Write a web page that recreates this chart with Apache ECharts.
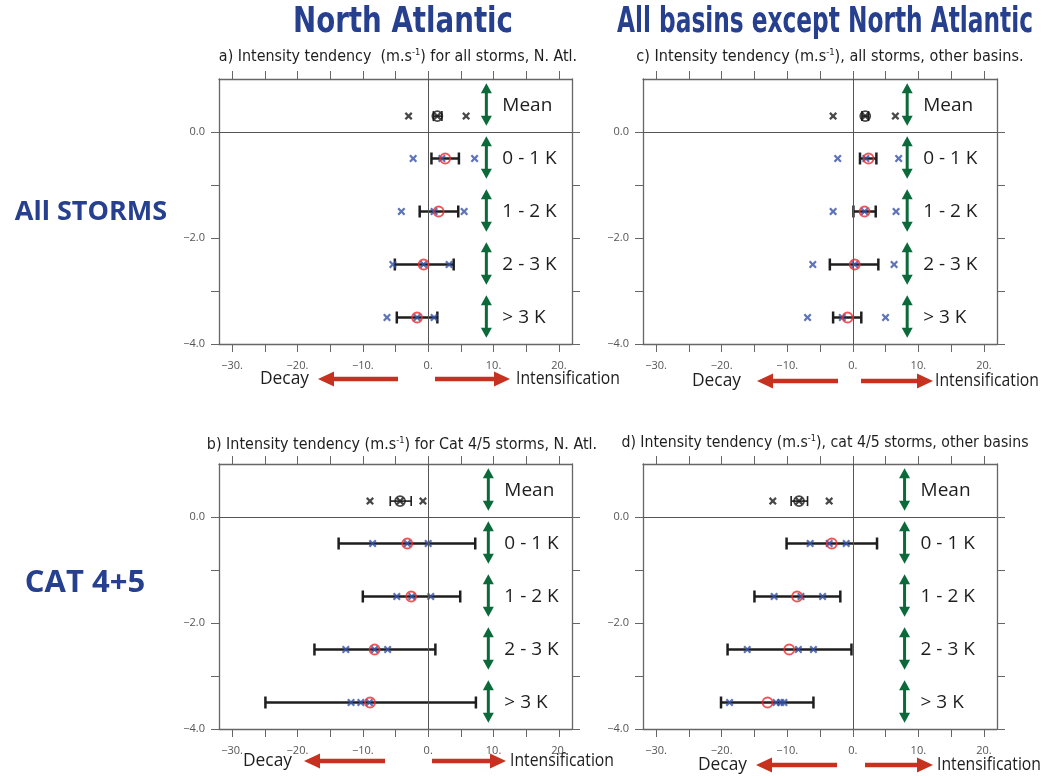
<!DOCTYPE html>
<html>
<head>
<meta charset="utf-8">
<script src="https://cdn.jsdelivr.net/npm/echarts@6/dist/echarts.min.js"></script>
<style>
  html, body { margin: 0; padding: 0; background: #fff; }
  #chart { width: 1044px; height: 776px; }
</style>
</head>
<body>
<div id="chart"></div>
<script>
// Row layout shared by all four panels
const rowLabels = ['Mean', '0 - 1 K', '1 - 2 K', '2 - 3 K', '> 3 K'];
const rowLevels = [0.3, -0.5, -1.5, -2.5, -3.5];

// Axis ticks and labels
const xTicks = [-30, -25, -20, -15, -10, -5, 0, 5, 10, 15, 20];
const xTickLabels = [-30, -20, -10, 0, 10, 20];
const yTicks = [-4, -3, -2, -1, 0];
const yTickLabels = [-4, -2, 0];

// a) all storms, North Atlantic
const aLow = [0.8, 0.5, -1.3, -5.1, -4.8];
const aHigh = [2.1, 4.7, 4.6, 3.9, 1.4];
const aMean = [1.4, 2.6, 1.6, -0.7, -1.7];
const aMembers = [[-3.0, 1.4, 5.8], [-2.3, 2.1, 7.1], [-4.1, 0.9, 5.5], [-5.4, -0.7, 3.2], [-6.3, -1.7, 0.9]];

// b) Cat 4/5 storms, North Atlantic
const bLow = [-5.8, -13.7, -10.0, -17.4, -24.9];
const bHigh = [-2.6, 7.2, 4.9, 1.1, 7.3];
const bMean = [-4.3, -3.2, -2.6, -8.2, -8.9];
const bMembers = [[-8.9, -4.3, -0.8], [-8.5, -3.2, 0.0], [-4.8, -2.5, 0.4], [-12.6, -8.2, -6.2], [-11.8, -10.3, -9.0]];

// c) all storms, other basins
const cLow = [1.4, 1.1, 0.1, -3.5, -3.0];
const cHigh = [2.4, 3.6, 3.5, 3.9, 1.3];
const cMean = [1.9, 2.4, 1.8, 0.3, -0.8];
const cMembers = [[-3.0, 1.9, 6.5], [-2.3, 2.0, 7.0], [-3.0, 1.8, 6.6], [-6.1, 0.3, 6.3], [-6.9, -1.6, 5.0]];

// d) Cat 4/5 storms, other basins
const dLow = [-9.4, -10.1, -15.0, -19.1, -20.1];
const dHigh = [-6.9, 3.7, -1.9, -0.2, -6.0];
const dMean = [-8.2, -3.2, -8.5, -9.7, -13.0];
const dMembers = [[-12.2, -8.2, -3.6], [-6.5, -3.6, -1.0], [-12.0, -7.9, -4.6], [-16.1, -8.3, -6.0], [-18.8, -11.7, -11.0, -10.5]];

const panelTitles = [
  'a) Intensity tendency  (m.s{sup|-1}) for all storms, N. Atl.',
  'b) Intensity tendency (m.s{sup|-1}) for Cat 4/5 storms, N. Atl.',
  'c) Intensity tendency (m.s{sup|-1}), all storms, other basins.',
  'd) Intensity tendency (m.s{sup|-1}), cat 4/5 storms, other basins'
];

const BLUE = '#26408f';
const GREEN = '#0c6a3a';
const RED = '#c6321f';
const AXIS = '#666';
const LABEL_FONT = '"Open Sans", "Noto Sans", sans-serif';
const NARROW_FONT = '"Liberation Sans Narrow", "DejaVu Sans Condensed", "Open Sans", sans-serif';

const panels = [
  { grid: { left: 219, top: 79, width: 353, height: 265 }, low: aLow, high: aHigh, mean: aMean, members: aMembers, arrowX: 8.9 },
  { grid: { left: 219, top: 464, width: 353, height: 265 }, low: bLow, high: bHigh, mean: bMean, members: bMembers, arrowX: 9.2 },
  { grid: { left: 643, top: 79, width: 354, height: 265 }, low: cLow, high: cHigh, mean: cMean, members: cMembers, arrowX: 8.3 },
  { grid: { left: 643, top: 464, width: 354, height: 265 }, low: dLow, high: dHigh, mean: dMean, members: dMembers, arrowX: 7.9 }
];

const crossPath = 'path://M2,0 L5,3 L8,0 L10,2 L7,5 L10,8 L8,10 L5,7 L2,10 L0,8 L3,5 L0,2 Z';

function fmtX(v) { return (v < 0 ? '\u2212' : '') + Math.abs(v) + '.'; }
function fmtY(v) { return (v < 0 ? '\u2212' : '') + Math.abs(v).toFixed(1); }

// horizontal squeeze so a text run fills a given width
const measureCtx = document.createElement('canvas').getContext('2d');
function squeeze(text, font, width) {
  measureCtx.font = font;
  return width / measureCtx.measureText(text).width;
}

const grids = [], xAxes = [], yAxes = [], series = [];

panels.forEach((p, i) => {
  grids.push(Object.assign({ containLabel: false }, p.grid));
  const tickStyle = { show: true, length: 8, inside: false, lineStyle: { color: AXIS, width: 1 } };
  const lineStyle = { show: true, onZero: false, lineStyle: { color: AXIS, width: 1.3 } };
  // bottom axis with labels, top axis with ticks only
  xAxes.push({
    gridIndex: i, type: 'value', position: 'bottom', min: -32, max: 22,
    axisLine: lineStyle,
    axisTick: Object.assign({ customValues: xTicks }, tickStyle),
    axisLabel: { customValues: xTickLabels, formatter: fmtX, color: '#555', fontSize: 11, margin: 16, fontFamily: LABEL_FONT },
    splitLine: { show: false }
  });
  xAxes.push({
    gridIndex: i, type: 'value', position: 'top', min: -32, max: 22,
    axisLine: lineStyle,
    axisTick: Object.assign({ customValues: xTicks }, tickStyle),
    axisLabel: { show: false },
    splitLine: { show: false }
  });
  yAxes.push({
    gridIndex: i, type: 'value', position: 'left', min: -4, max: 1,
    axisLine: lineStyle,
    axisTick: Object.assign({ customValues: yTicks }, tickStyle),
    axisLabel: { customValues: yTickLabels, formatter: fmtY, color: '#555', fontSize: 11, margin: 14, fontFamily: LABEL_FONT },
    splitLine: { show: false }
  });
  yAxes.push({
    gridIndex: i, type: 'value', position: 'right', min: -4, max: 1,
    axisLine: lineStyle,
    axisTick: Object.assign({ customValues: yTicks }, tickStyle),
    axisLabel: { show: false },
    splitLine: { show: false }
  });
  const xi = i * 2, yi = i * 2;

  // error bars (confidence range for each row)
  series.push({
    type: 'custom', xAxisIndex: xi, yAxisIndex: yi, z: 3,
    encode: { x: [0, 1], y: 2 },
    data: rowLevels.map((y, r) => [p.low[r], p.high[r], y, r]),
    renderItem: (params, api) => {
      const y = api.value(2);
      const isMean = api.value(3) === 0;
      const a = api.coord([api.value(0), y]);
      const b = api.coord([api.value(1), y]);
      const h = isMean ? 5 : 6;
      const style = { stroke: '#1e1e1e', lineWidth: isMean ? 1.6 : 2.5 };
      return {
        type: 'group', children: [
          { type: 'line', shape: { x1: a[0], y1: a[1], x2: b[0], y2: b[1] }, style },
          { type: 'line', shape: { x1: a[0], y1: a[1] - h, x2: a[0], y2: a[1] + h }, style },
          { type: 'line', shape: { x1: b[0], y1: b[1] - h, x2: b[0], y2: b[1] + h }, style }
        ]
      };
    },
    markLine: {
      silent: true, symbol: 'none', label: { show: false },
      lineStyle: { color: '#555', width: 1, type: 'solid' },
      data: [{ xAxis: 0 }, { yAxis: 0 }]
    }
  });

  // individual members
  const memberData = [];
  p.members.forEach((list, r) => list.forEach(v => memberData.push({
    value: [v, rowLevels[r]],
    itemStyle: { color: r === 0 ? '#1a1a1a' : '#3551a8' }
  })));
  series.push({
    type: 'scatter', xAxisIndex: xi, yAxisIndex: yi, z: 4,
    symbol: crossPath, symbolSize: 8,
    data: memberData
  });

  // ensemble means
  series.push({
    type: 'scatter', xAxisIndex: xi, yAxisIndex: yi, z: 5,
    symbol: 'circle', symbolSize: 10,
    data: p.mean.map((v, r) => ({
      value: [v, rowLevels[r]],
      itemStyle: { color: 'rgba(0,0,0,0)', borderColor: r === 0 ? '#1a1a1a' : '#ec2a2e', borderWidth: 1.8 }
    }))
  });

  // row markers: green double arrows with the row names
  series.push({
    type: 'custom', xAxisIndex: xi, yAxisIndex: yi, z: 6,
    encode: { x: 0, y: 1 },
    data: rowLabels.map((name, r) => [p.arrowX, rowLevels[r], r]),
    renderItem: (params, api) => {
      const r = api.value(2);
      const bandTop = r === 0 ? 1 : 1 - r;
      const bandBottom = bandTop - 1;
      const top = api.coord([api.value(0), bandTop - 0.08]);
      const bot = api.coord([api.value(0), bandBottom + 0.12]);
      const x = top[0];
      const hw = 5.5, hh = 10;
      const mid = (top[1] + bot[1]) / 2;
      return {
        type: 'group', children: [
          { type: 'line', shape: { x1: x, y1: top[1] + hh - 1, x2: x, y2: bot[1] - hh + 1 }, style: { stroke: GREEN, lineWidth: 3 } },
          { type: 'polygon', shape: { points: [[x, top[1]], [x - hw, top[1] + hh], [x + hw, top[1] + hh]] }, style: { fill: GREEN } },
          { type: 'polygon', shape: { points: [[x, bot[1]], [x - hw, bot[1] - hh], [x + hw, bot[1] - hh]] }, style: { fill: GREEN } },
          { type: 'text', x: x + 16, y: mid + 1, style: { text: rowLabels[r], fontSize: 19, fontFamily: LABEL_FONT, fill: '#1e1e1e', verticalAlign: 'middle', align: 'left' } }
        ]
      };
    }
  });
});

// Decay / Intensification arrows under each panel
function redArrow(xTail, xTip, y) {
  const dir = xTip > xTail ? 1 : -1;
  const headLen = 16, headHalf = 7.5;
  const base = xTip - dir * headLen;
  return [
    { type: 'line', shape: { x1: xTail, y1: y, x2: base + dir, y2: y }, style: { stroke: RED, lineWidth: 4.5 } },
    { type: 'polygon', shape: { points: [[xTip, y], [base, y - headHalf], [base, y + headHalf]] }, style: { fill: RED } }
  ];
}
const captionFont = '18px ' + LABEL_FONT;
function captionText(text, x, y, width) {
  return {
    type: 'text', x, y, scaleX: squeeze(text, captionFont, width),
    style: { text, font: captionFont, fill: '#1e1e1e', align: 'left', verticalAlign: 'middle' }
  };
}
const arrowRows = [
  { decay: 260, left: [398, 318], right: [435, 510], text: 516, y: 379 },
  { decay: 692, left: [838, 757], right: [861, 933], text: 935, y: 381 },
  { decay: 243, left: [385, 304], right: [432, 506], text: 510, y: 761 },
  { decay: 698, left: [837, 756], right: [865, 933], text: 937, y: 765 }
];
const graphics = [];
arrowRows.forEach(a => {
  graphics.push(captionText('Decay', a.decay, a.y, 49));
  redArrow(a.left[0], a.left[1], a.y).forEach(g => graphics.push(g));
  redArrow(a.right[0], a.right[1], a.y).forEach(g => graphics.push(g));
  graphics.push(captionText('Intensification', a.text, a.y, 104));
});

// Headings
const headFont = 'bold 36px "Liberation Sans Narrow", "DejaVu Sans Condensed", sans-serif';
function heading(text, x, y, width) {
  return {
    type: 'text', x, y, scaleX: squeeze(text, headFont, width),
    style: { text, font: headFont, fill: BLUE, align: 'center', verticalAlign: 'middle' }
  };
}
graphics.push(heading('North Atlantic', 403, 23, 220));
graphics.push(heading('All basins except North Atlantic', 825, 23, 416));
graphics.push({ type: 'text', x: 91, y: 212, style: { text: 'All STORMS', font: 'bold 27px "Open Sans", sans-serif', fill: BLUE, align: 'center', verticalAlign: 'middle' } });
graphics.push({ type: 'text', x: 85, y: 583, style: { text: 'CAT 4+5', font: 'bold 31px "Open Sans", sans-serif', fill: BLUE, align: 'center', verticalAlign: 'middle' } });

const subFont = '15.5px ' + NARROW_FONT;
const subPos = [[398, 57], [402, 445], [830, 57], [825, 443]];
const subWidths = [357, 389, 386, 406];
panelTitles.forEach((t, i) => {
  const plain = t.replace('{sup|-1}', '');
  graphics.push({
    type: 'text', x: subPos[i][0], y: subPos[i][1],
    scaleX: squeeze(plain, subFont, subWidths[i] - 7),
    style: {
      text: t, align: 'center', verticalAlign: 'middle',
      font: subFont, fill: '#1e1e1e',
      rich: { sup: { fontSize: 9, fontFamily: NARROW_FONT, fill: '#1e1e1e', verticalAlign: 'top', padding: [0, 0, 8, 0] } }
    }
  });
});

const chart = echarts.init(document.getElementById('chart'), null, { renderer: 'canvas' });
chart.setOption({
  animation: false,
  backgroundColor: '#fff',
  grid: grids,
  xAxis: xAxes,
  yAxis: yAxes,
  series,
  graphic: graphics
});
</script>
</body>
</html>
